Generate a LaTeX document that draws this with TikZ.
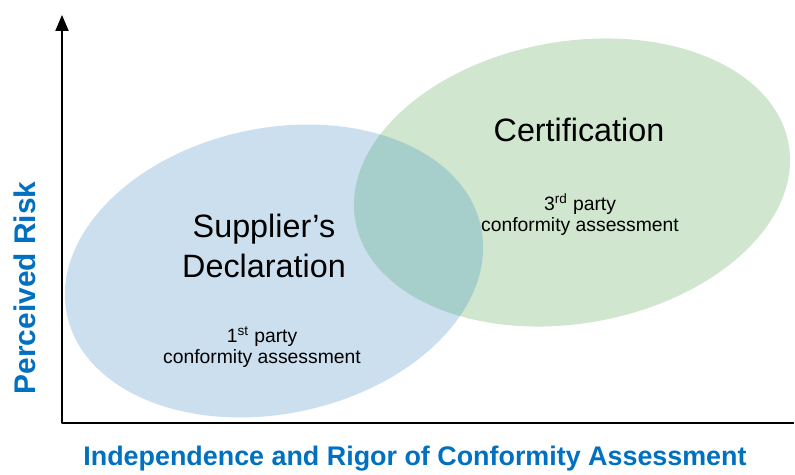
\documentclass[tikz,border=0pt]{standalone}
\usepackage{fontspec}
\setmainfont{Liberation Sans}
\usepackage{tikz}
\usetikzlibrary{arrows}
\definecolor{sdblue}{RGB}{204,223,238}
\definecolor{certgreen}{RGB}{208,230,207}
\definecolor{overlapteal}{RGB}{166,206,202}
\definecolor{axisblue}{RGB}{0,112,192}

\begin{document}
\begin{tikzpicture}[line cap=round,line join=round,>=triangle 45,x=0.02cm,y=0.02cm,
  title/.style={align=center,font=\fontsize{18.4}{22.7}\selectfont},
  note/.style={align=center,font=\fontsize{11}{12}\selectfont},
  axislabel/.style={text=axisblue,font=\bfseries\fontsize{15.3}{18}\selectfont}]
\useasboundingbox (0,0) rectangle (795,474);
\fill[sdblue,shift={(274,203)},rotate=12] (0,0) ellipse [x radius=211.6,y radius=142.8];
\fill[certgreen,shift={(572,291.5)},rotate=10] (0,0) ellipse [x radius=220,y radius=141];
\begin{scope}
\clip[shift={(274,203)},rotate=12] (0,0) ellipse [x radius=211.6,y radius=142.8];
\fill[overlapteal,shift={(572,291.5)},rotate=10] (0,0) ellipse [x radius=220,y radius=141];
\end{scope}
\coordinate (origin) at (62,51);
\coordinate (ytop) at (62,459);
\coordinate (xend) at (794,51);
\draw[line width=1.1pt,line cap=butt,<-] (ytop) -- (origin) -- (xend);
\node[title] (sdtitle) at (264,228) {Supplier’s\\Declaration};
\node[title,anchor=base] (certtitle) at (579,332) {Certification};
\node[note] (sdnote) at (262,127.2) {1\textsuperscript{st} party\\conformity assessment};
\node[note] (certnote) at (580,259.1) {3\textsuperscript{rd} party\\conformity assessment};
\node[axislabel,rotate=90,font=\bfseries\fontsize{17}{20}\selectfont] (ylabel) at (25,186) {Perceived Risk};
\node[axislabel,anchor=base] (xlabel) at (415,9) {Independence and Rigor of Conformity Assessment};
\end{tikzpicture}
\end{document}
